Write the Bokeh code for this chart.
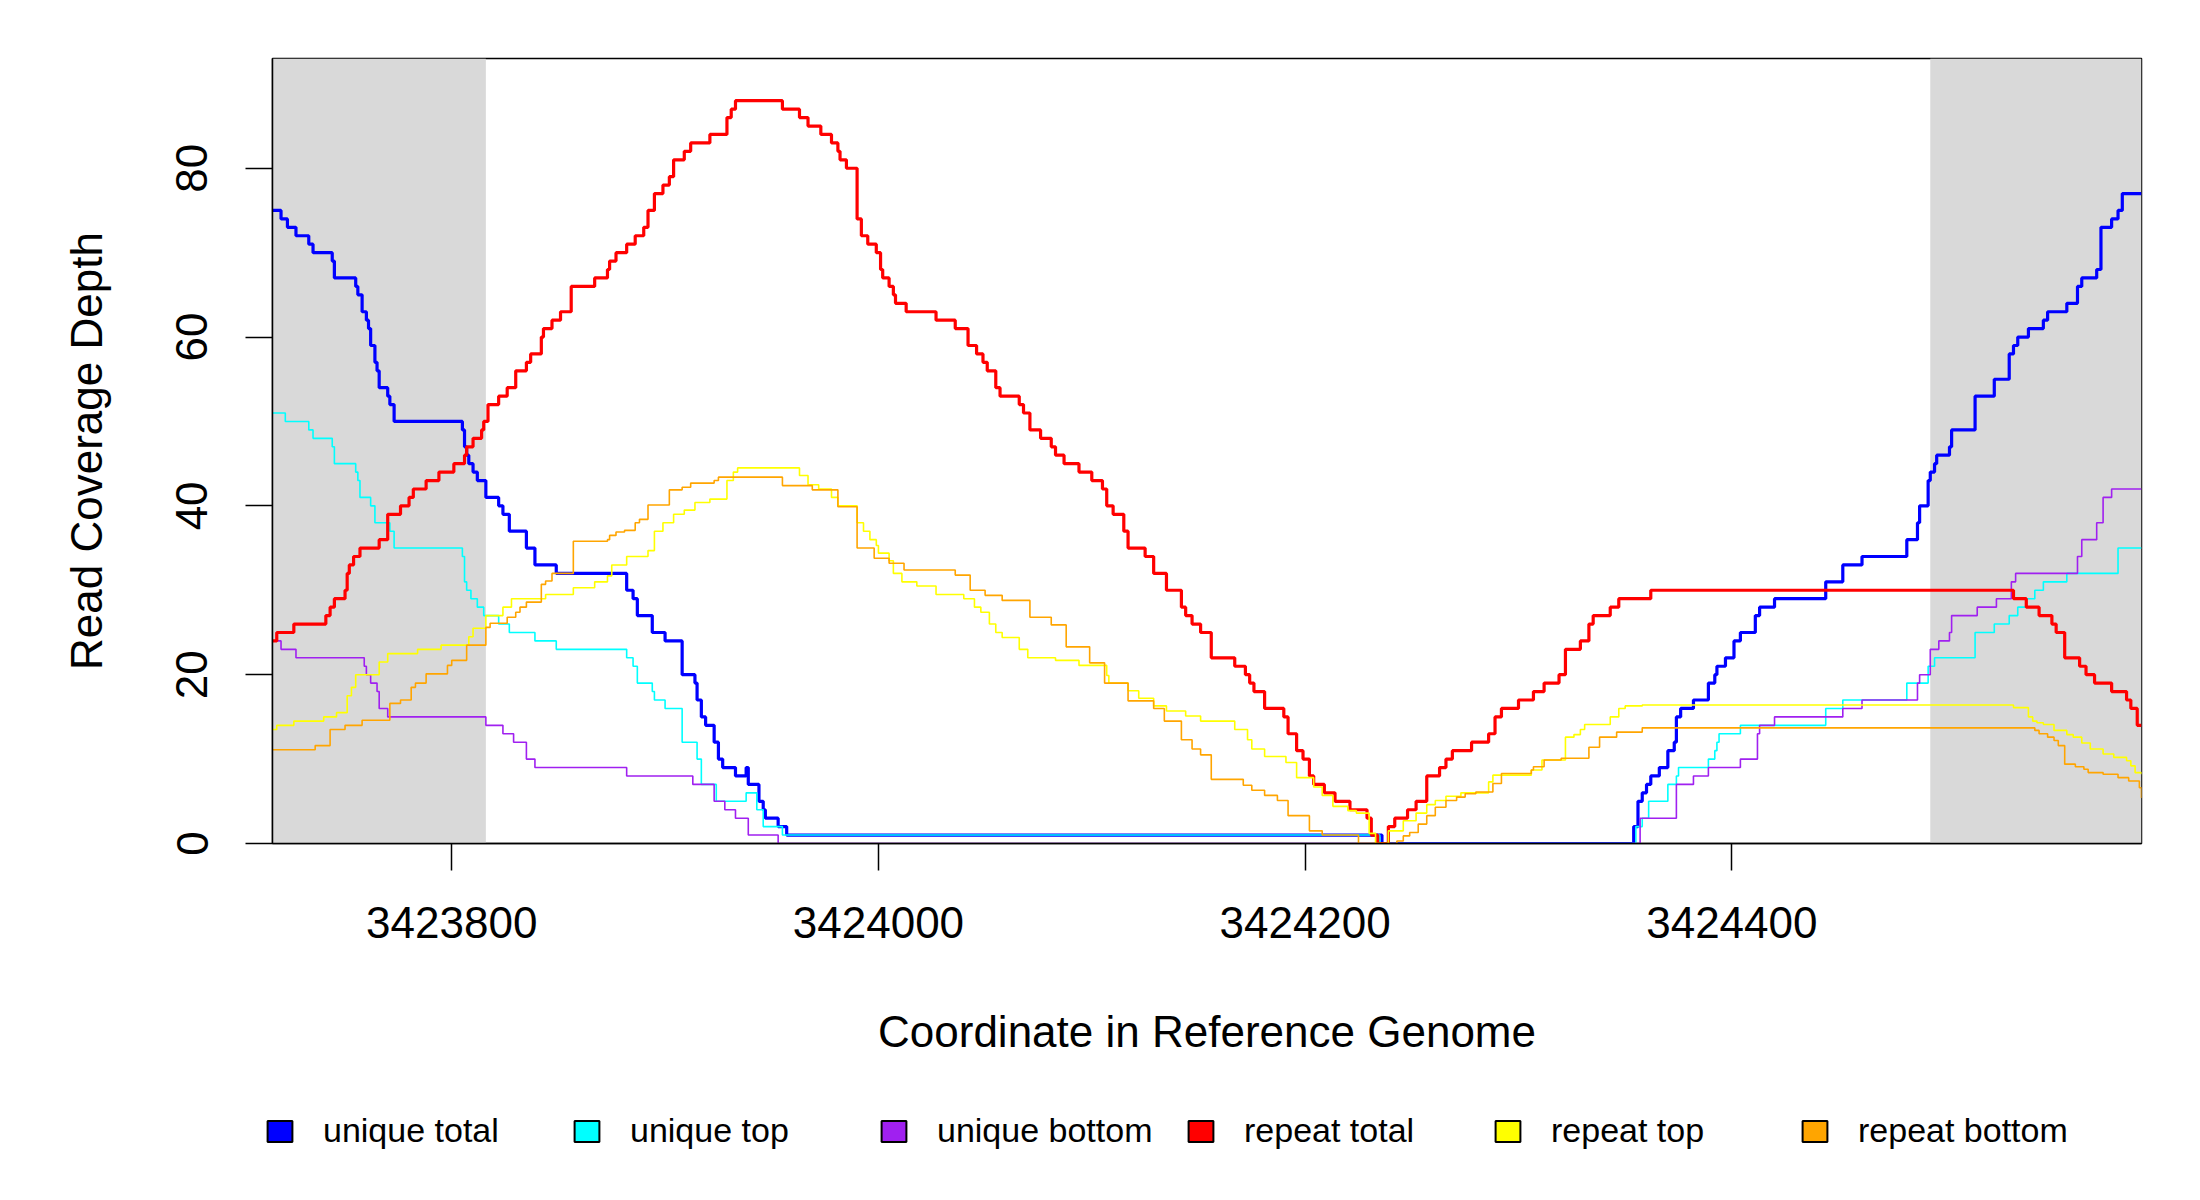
from bokeh.plotting import figure
from bokeh.layouts import column
from bokeh.models import (Range1d, FixedTicker, BasicTickFormatter, BoxAnnotation,
                          Legend, LegendItem)
from bokeh.embed import file_html
from bokeh.resources import INLINE

# ---------------- data ----------------
x_start, x_end = 3423716, 3424592
y_max = 93
flank_left = [3423716, 3423816]
flank_right = [3424493, 3424592]
x_ticks = [3423800, 3424000, 3424200, 3424400]
y_ticks = [0, 20, 40, 60, 80]

unique_total_x = [3423716, 3423720, 3423723, 3423727, 3423733, 3423735, 3423744, 3423745, 3423755, 3423756,
                  3423758, 3423760, 3423761, 3423762, 3423764, 3423765, 3423766, 3423770, 3423771, 3423773,
                  3423805, 3423806, 3423807, 3423808, 3423810, 3423812, 3423816, 3423822, 3423824, 3423827,
                  3423835, 3423839, 3423849, 3423882, 3423885, 3423887, 3423894, 3423900, 3423908, 3423914,
                  3423915, 3423917, 3423919, 3423923, 3423925, 3423927, 3423933, 3423938, 3423939, 3423944,
                  3423946, 3423947, 3423953, 3423957, 3424236, 3424354, 3424356, 3424358, 3424360, 3424362,
                  3424366, 3424370, 3424373, 3424374, 3424376, 3424382, 3424389, 3424392, 3424393, 3424397,
                  3424401, 3424404, 3424411, 3424413, 3424420, 3424444, 3424452, 3424461, 3424482, 3424487,
                  3424488, 3424492, 3424493, 3424495, 3424496, 3424502, 3424503, 3424514, 3424523, 3424530,
                  3424532, 3424534, 3424539, 3424546, 3424548, 3424557, 3424562, 3424564, 3424571, 3424573,
                  3424578, 3424581, 3424583, 3424592]
unique_total_y = [75, 74, 73, 72, 71, 70, 69, 67, 66, 65,
                  63, 62, 61, 59, 57, 56, 54, 53, 52, 50,
                  49, 47, 46, 45, 44, 43, 41, 40, 39, 37,
                  35, 33, 32, 30, 29, 27, 25, 24, 20, 19,
                  17, 15, 14, 12, 10, 9, 8, 9, 7, 5,
                  4, 3, 2, 1, 0, 2, 5, 6, 7, 8,
                  9, 11, 12, 15, 16, 17, 19, 20, 21, 22,
                  24, 25, 27, 28, 29, 31, 33, 34, 36, 38,
                  40, 43, 44, 45, 46, 47, 49, 53, 55, 58,
                  59, 60, 61, 62, 63, 64, 66, 67, 68, 73,
                  74, 75, 77, 77]

unique_top_x = [3423716, 3423722, 3423733, 3423735, 3423744, 3423745, 3423755, 3423756, 3423757, 3423762,
                3423764, 3423771, 3423773, 3423805, 3423806, 3423807, 3423809, 3423812, 3423815, 3423822,
                3423827, 3423839, 3423849, 3423882, 3423885, 3423887, 3423894, 3423895, 3423900, 3423908,
                3423915, 3423917, 3423924, 3423938, 3423943, 3423946, 3423955, 3424235, 3424355, 3424358,
                3424361, 3424370, 3424374, 3424375, 3424389, 3424392, 3424393, 3424394, 3424404, 3424444,
                3424452, 3424482, 3424492, 3424495, 3424514, 3424523, 3424530, 3424534, 3424538, 3424542,
                3424546, 3424557, 3424581, 3424592]
unique_top_y = [51, 50, 49, 48, 47, 45, 44, 43, 41, 40,
                38, 37, 35, 34, 31, 30, 29, 28, 27, 26,
                25, 24, 23, 22, 21, 19, 18, 17, 16, 12,
                10, 7, 5, 6, 4, 2, 1, 0, 2, 3,
                5, 7, 8, 9, 10, 11, 12, 13, 14, 16,
                17, 19, 21, 22, 25, 26, 27, 28, 29, 30,
                31, 32, 35, 35]

unique_bottom_x = [3423716, 3423720, 3423727, 3423759, 3423760, 3423762, 3423765, 3423766, 3423770, 3423816,
                   3423824, 3423829, 3423835, 3423839, 3423882, 3423913, 3423923, 3423928, 3423933, 3423939,
                   3423953, 3424357, 3424374, 3424382, 3424389, 3424404, 3424412, 3424413, 3424420, 3424452,
                   3424461, 3424487, 3424488, 3424493, 3424497, 3424502, 3424503, 3424515, 3424524, 3424531,
                   3424533, 3424562, 3424564, 3424571, 3424574, 3424578, 3424592]
unique_bottom_y = [24, 23, 22, 21, 20, 19, 18, 16, 15, 14,
                   13, 12, 10, 9, 8, 7, 5, 4, 3, 1,
                   0, 3, 7, 8, 9, 10, 13, 14, 15, 16,
                   17, 19, 20, 23, 24, 25, 27, 28, 29, 31,
                   32, 34, 36, 38, 41, 42, 42]

repeat_total_x = [3423716, 3423718, 3423726, 3423741, 3423743, 3423745, 3423750, 3423751, 3423752, 3423754,
                  3423757, 3423766, 3423770, 3423776, 3423780, 3423782, 3423788, 3423794, 3423801, 3423806,
                  3423807, 3423810, 3423814, 3423815, 3423817, 3423822, 3423826, 3423830, 3423835, 3423837,
                  3423842, 3423843, 3423847, 3423851, 3423856, 3423867, 3423873, 3423874, 3423877, 3423882,
                  3423886, 3423890, 3423892, 3423895, 3423899, 3423902, 3423904, 3423909, 3423912, 3423921,
                  3423929, 3423931, 3423933, 3423955, 3423963, 3423967, 3423973, 3423978, 3423981, 3423982,
                  3423985, 3423990, 3423992, 3423995, 3423999, 3424001, 3424002, 3424005, 3424007, 3424008,
                  3424013, 3424027, 3424036, 3424042, 3424046, 3424049, 3424051, 3424055, 3424057, 3424066,
                  3424068, 3424071, 3424076, 3424081, 3424083, 3424087, 3424094, 3424100, 3424105, 3424107,
                  3424110, 3424115, 3424117, 3424125, 3424129, 3424135, 3424142, 3424144, 3424147, 3424151,
                  3424156, 3424167, 3424172, 3424174, 3424176, 3424181, 3424190, 3424192, 3424196, 3424199,
                  3424202, 3424204, 3424209, 3424214, 3424221, 3424229, 3424231, 3424234, 3424239, 3424242,
                  3424248, 3424252, 3424257, 3424263, 3424266, 3424269, 3424278, 3424286, 3424289, 3424292,
                  3424300, 3424307, 3424312, 3424319, 3424322, 3424329, 3424333, 3424335, 3424343, 3424347,
                  3424362, 3424532, 3424538, 3424544, 3424550, 3424552, 3424556, 3424563, 3424566, 3424570,
                  3424578, 3424585, 3424587, 3424590, 3424592]
repeat_total_y = [24, 25, 26, 27, 28, 29, 30, 32, 33, 34,
                  35, 36, 39, 40, 41, 42, 43, 44, 45, 46,
                  47, 48, 49, 50, 52, 53, 54, 56, 57, 58,
                  60, 61, 62, 63, 66, 67, 68, 69, 70, 71,
                  72, 73, 75, 77, 78, 79, 81, 82, 83, 84,
                  86, 87, 88, 87, 86, 85, 84, 83, 82, 81,
                  80, 74, 72, 71, 70, 68, 67, 66, 65, 64,
                  63, 62, 61, 59, 58, 57, 56, 54, 53, 52,
                  51, 49, 48, 47, 46, 45, 44, 43, 42, 40,
                  39, 37, 35, 34, 32, 30, 28, 27, 26, 25,
                  22, 21, 20, 19, 18, 16, 15, 13, 11, 10,
                  8, 7, 6, 5, 4, 3, 1, 0, 2, 3,
                  4, 5, 8, 9, 10, 11, 12, 13, 15, 16,
                  17, 18, 19, 20, 23, 24, 26, 27, 28, 29,
                  30, 29, 28, 27, 26, 25, 22, 21, 20, 19,
                  18, 17, 16, 14, 14]

repeat_top_x = [3423716, 3423718, 3423726, 3423740, 3423746, 3423751, 3423753, 3423755, 3423766, 3423770,
                3423784, 3423795, 3423808, 3423810, 3423816, 3423824, 3423828, 3423844, 3423857, 3423867,
                3423873, 3423875, 3423882, 3423892, 3423895, 3423899, 3423904, 3423909, 3423914, 3423921,
                3423929, 3423932, 3423934, 3423963, 3423967, 3423972, 3423978, 3423981, 3423990, 3423993,
                3423996, 3423999, 3424000, 3424005, 3424007, 3424011, 3424018, 3424027, 3424040, 3424045,
                3424048, 3424052, 3424055, 3424058, 3424066, 3424070, 3424083, 3424094, 3424107, 3424108,
                3424117, 3424122, 3424129, 3424135, 3424144, 3424151, 3424167, 3424173, 3424175, 3424181,
                3424191, 3424196, 3424204, 3424208, 3424213, 3424220, 3424224, 3424230, 3424233, 3424239,
                3424246, 3424252, 3424257, 3424261, 3424266, 3424273, 3424286, 3424288, 3424306, 3424311,
                3424322, 3424326, 3424329, 3424331, 3424343, 3424347, 3424350, 3424358, 3424532, 3424539,
                3424541, 3424543, 3424546, 3424551, 3424557, 3424560, 3424564, 3424568, 3424574, 3424579,
                3424585, 3424587, 3424589, 3424592]
repeat_top_y = [13.5, 14, 14.5, 15, 15.5, 17.5, 18.5, 20, 21.5, 22.5,
                23, 23.5, 24.5, 25.5, 27, 28, 29, 29.5, 30.3, 31,
                31.7, 33, 34, 34.7, 37, 38, 39, 39.5, 40.4, 40.8,
                43, 44, 44.5, 43.6, 42.5, 42, 41, 40, 38, 37,
                36, 35.3, 34.4, 33.5, 32, 31, 30.5, 29.5, 29, 28,
                27.4, 26, 25, 24.4, 23, 22, 21.7, 21.1, 19.9, 19,
                18.1, 17.2, 16.3, 15.7, 15.1, 14.5, 13.5, 12.3, 11.2, 10.3,
                9.6, 7.8, 6.7, 5.7, 4.4, 3.9, 3.6, 1.2, 0, 1.5,
                2.7, 3.6, 4.6, 5.1, 5.6, 6, 7.3, 8.1, 8.7, 9.9,
                12.6, 12.9, 13.5, 14.1, 15, 16, 16.3, 16.4, 16.1, 15,
                14.5, 14.3, 14.1, 13.4, 12.9, 12.6, 11.9, 11.2, 10.6, 10.2,
                9.8, 9.2, 8.4, 8.2]

repeat_bottom_x = [3423716, 3423736, 3423743, 3423750, 3423758, 3423771, 3423776, 3423781, 3423783, 3423788,
                   3423798, 3423800, 3423807, 3423816, 3423818, 3423826, 3423830, 3423832, 3423835, 3423842,
                   3423844, 3423847, 3423857, 3423873, 3423874, 3423877, 3423881, 3423886, 3423888, 3423892,
                   3423902, 3423908, 3423912, 3423923, 3423925, 3423955, 3423969, 3423981, 3423990, 3423998,
                   3424005, 3424012, 3424036, 3424043, 3424050, 3424058, 3424071, 3424081, 3424088, 3424099,
                   3424106, 3424117, 3424129, 3424134, 3424142, 3424147, 3424151, 3424156, 3424171, 3424175,
                   3424181, 3424187, 3424192, 3424202, 3424208, 3424225, 3424243, 3424246, 3424249, 3424253,
                   3424257, 3424261, 3424266, 3424271, 3424275, 3424280, 3424288, 3424292, 3424306, 3424307,
                   3424312, 3424320, 3424333, 3424338, 3424346, 3424358, 3424542, 3424544, 3424548, 3424551,
                   3424553, 3424556, 3424561, 3424565, 3424567, 3424574, 3424581, 3424586, 3424591, 3424592]
repeat_bottom_y = [11.1, 11.6, 13.5, 14, 14.6, 16.6, 17, 18.5, 19, 20.1,
                   21.1, 21.7, 23.5, 25.6, 26.1, 26.8, 27.4, 28, 28.6, 30.7,
                   31.1, 32, 35.8, 36, 36.5, 36.9, 37.1, 38, 38.4, 40.1,
                   41.9, 42.2, 42.7, 43, 43.4, 42.4, 41.9, 39.9, 35, 33.8,
                   33.2, 32.4, 31.8, 30, 29.4, 28.8, 26.8, 25.9, 23.3, 21.4,
                   19, 16.9, 16, 14.5, 12.3, 11.2, 10.5, 7.6, 6.9, 6.3,
                   5.7, 5.1, 3.3, 1.5, 1.0, 0, 0.3, 0.9, 1.3, 2.3,
                   3.3, 4.3, 5.1, 5.5, 5.9, 6.1, 7.1, 8.3, 8.7, 9.1,
                   9.9, 10.1, 11.4, 12.6, 13.2, 13.7, 13.4, 13.0, 12.6, 12.2,
                   11.6, 9.4, 9.1, 8.8, 8.4, 8.2, 7.8, 7.4, 6.6, 5.4]

series = [
    ("unique total", unique_total_x, unique_total_y, "#0000FF", 3.2),
    ("unique top", unique_top_x, unique_top_y, "#00FFFF", 1.6),
    ("unique bottom", unique_bottom_x, unique_bottom_y, "#A020F0", 1.6),
    ("repeat total", repeat_total_x, repeat_total_y, "#FF0000", 3.2),
    ("repeat top", repeat_top_x, repeat_top_y, "#FFFF00", 1.6),
    ("repeat bottom", repeat_bottom_x, repeat_bottom_y, "#FFA500", 1.6),
]

FONT = "Liberation Sans"

# ---------------- main plot ----------------
p = figure(frame_width=1869, frame_height=785,
           min_border_left=272, min_border_right=49, min_border_top=58, min_border_bottom=237,
           x_range=Range1d(x_start, x_end), y_range=Range1d(0, y_max),
           output_backend="svg", toolbar_location=None,
           x_axis_label="Coordinate in Reference Genome", y_axis_label="Read Coverage Depth")

p.background_fill_color = "white"
p.border_fill_color = "white"
p.outline_line_color = "black"
p.outline_line_width = 1.5
p.xgrid.visible = False
p.ygrid.visible = False

# flanking (shaded) regions
for a, b in (flank_left, flank_right):
    p.add_layout(BoxAnnotation(left=a, right=b, fill_color="#D9D9D9", fill_alpha=1.0,
                               line_alpha=0, level="underlay"))

for name, xs, ys, color, lw in series:
    p.step(xs, ys, mode="after", line_color=color, line_width=lw)

for ax in (p.xaxis[0], p.yaxis[0]):
    ax.major_label_text_font = FONT
    ax.major_label_text_font_size = "44px"
    ax.major_label_text_color = "black"
    ax.axis_label_text_font = FONT
    ax.axis_label_text_font_size = "44px"
    ax.axis_label_text_font_style = "normal"
    ax.axis_label_text_color = "black"
    ax.major_tick_out = 27
    ax.major_tick_in = 0
    ax.minor_tick_out = 0
    ax.minor_tick_in = 0
    ax.major_tick_line_width = 1.5
    ax.major_tick_line_color = "black"
    ax.axis_line_width = 1.5
    ax.axis_line_color = "black"

p.xaxis[0].ticker = FixedTicker(ticks=x_ticks)
p.xaxis[0].formatter = BasicTickFormatter(use_scientific=False)
p.xaxis[0].major_label_standoff = 36
p.xaxis[0].axis_label_standoff = 66

p.yaxis[0].ticker = FixedTicker(ticks=y_ticks)
p.yaxis[0].major_label_orientation = "parallel"
p.yaxis[0].major_label_standoff = 38
p.yaxis[0].axis_label_standoff = 63

# ---------------- legend strip ----------------
q = figure(frame_width=2190, frame_height=110, x_axis_type=None, y_axis_type=None,
           x_range=Range1d(0, 1), y_range=Range1d(0, 1),
           output_backend="svg", toolbar_location=None)
q.min_border = 0
q.min_border_left = 0
q.min_border_right = 0
q.min_border_top = 0
q.min_border_bottom = 0
q.outline_line_color = None
q.background_fill_color = "white"
q.border_fill_color = "white"

items = []
for name, xs, ys, color, lw in series:
    # one dummy quad outside the visible range: it only supplies the legend swatch
    r = q.quad(left=[2], right=[3], top=[3], bottom=[2], fill_color=color,
               line_color="black", line_width=2)
    items.append(LegendItem(label=name, renderers=[r]))

legend = Legend(items=items, orientation="horizontal", location=(264, 40),
                glyph_width=31, glyph_height=26, label_standoff=28, label_width=248,
                spacing=0, padding=0, margin=0,
                label_text_font=FONT, label_text_font_size="34px", label_text_color="black",
                background_fill_alpha=0, border_line_alpha=0)
q.add_layout(legend, "center")

layout = column(p, q, spacing=0)
open("out.html", "w").write(file_html(layout, INLINE))
